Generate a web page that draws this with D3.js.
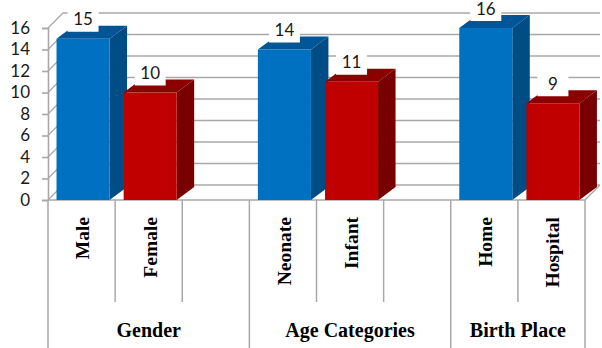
<!DOCTYPE html>
<html>
<head>
<meta charset="utf-8">
<script src="https://cdn.jsdelivr.net/npm/d3@7"></script>
<style>
  body { margin: 0; background: #fff; }
  svg { display: block; }
</style>
</head>
<body>
<svg id="chart" width="602" height="348"></svg>
<script>
// slots along the x axis (blank slots separate the groups)
var slots = ['Male', 'Female', 'gap1', 'Neonate', 'Infant', 'gap2', 'Home', 'Hospital'];
var barNames = ['Male', 'Female', 'Neonate', 'Infant', 'Home', 'Hospital'];
var barValues = [15, 10, 14, 11, 16, 9];
var barSeries = ['blue', 'red', 'blue', 'red', 'blue', 'red'];
var groupNames = ['Gender', 'Age Categories', 'Birth Place'];
var groupStart = ['Male', 'Neonate', 'Home'];
var groupEnd = ['gap1', 'gap2', 'Hospital'];
var yTicks = [0, 2, 4, 6, 8, 10, 12, 14, 16];

var faces = {
    blue: { front: '#0070c0', side: '#004d85', top: '#005596' },
    red:  { front: '#c00000', side: '#780000', top: '#8c0000' }
};

document.addEventListener('DOMContentLoaded', function () {
    drawChart();
});

function drawChart() {
    const svg = d3.select('#chart');
    const left = 48, right = 585, base = 200, topY = 28;
    const wallDx = 15, wallDy = -15;    // depth of the walls
    const barDx = 17.5, barDy = -13;    // depth of each bar
    const grid = '#a8a8a8';

    var x = d3.scaleBand().domain(slots).range([left, right]).padding(0);
    var y = d3.scaleLinear().domain([0, 16]).range([base, topY]);
    var bw = x.bandwidth();
    var barW = bw * 0.79;
    var barOff = bw * 0.127;

    // back wall gridlines
    svg.append('g').selectAll('line')
        .data(yTicks)
        .enter()
        .append('line')
        .attr('x1', left + wallDx).attr('x2', right + wallDx)
        .attr('y1', d => y(d) + wallDy).attr('y2', d => y(d) + wallDy)
        .attr('stroke', grid).attr('stroke-width', 1.6);

    // side wall diagonals
    svg.append('g').selectAll('line')
        .data(yTicks)
        .enter()
        .append('line')
        .attr('x1', left).attr('x2', left + wallDx)
        .attr('y1', d => y(d)).attr('y2', d => y(d) + wallDy)
        .attr('stroke', grid).attr('stroke-width', 1.3);

    // floor right edge
    svg.append('line')
        .attr('x1', right).attr('y1', base)
        .attr('x2', right + wallDx).attr('y2', base + wallDy)
        .attr('stroke', grid).attr('stroke-width', 1.5);

    // y axis
    const yAxis = svg.append('g')
        .attr('transform', `translate(${left},0)`)
        .call(d3.axisLeft(y).tickValues(yTicks).tickSize(6).tickPadding(12));
    yAxis.select('.domain').attr('stroke', grid).attr('stroke-width', 1.6);
    yAxis.selectAll('.tick line').attr('stroke', grid).attr('stroke-width', 1.6);
    yAxis.selectAll('.tick text')
        .attr('font-family', 'Lato, "Open Sans", sans-serif')
        .attr('font-size', 17)
        .attr('fill', '#1a1a1a');

    // x axis line
    svg.append('line')
        .attr('x1', left).attr('x2', right)
        .attr('y1', base).attr('y2', base)
        .attr('stroke', grid).attr('stroke-width', 1.6);

    // category separators
    var bounds = slots.map(s => x(s)).concat([right]);
    var longBounds = [left, right].concat(groupStart.map(s => x(s)));
    svg.append('g').selectAll('line')
        .data(bounds)
        .enter()
        .append('line')
        .attr('x1', d => d).attr('x2', d => d)
        .attr('y1', base)
        .attr('y2', d => longBounds.some(b => Math.abs(b - d) < 0.5) ? 348 : 302)
        .attr('stroke', grid).attr('stroke-width', 1.5);

    // bars
    var bars = barNames.map((n, i) => ({ name: n, value: barValues[i], series: barSeries[i] }));
    const bg = svg.append('g');
    bars.forEach(d => {
        var x0 = x(d.name) + barOff, x1 = x0 + barW;
        var yt = y(d.value), yb = y(0);
        var c = faces[d.series];
        bg.append('path')
            .attr('d', `M${x1},${yb}L${x1 + barDx},${yb + barDy}L${x1 + barDx},${yt + barDy}L${x1},${yt}Z`)
            .attr('fill', c.side);
        bg.append('path')
            .attr('d', `M${x0},${yt}L${x0 + barDx},${yt + barDy}L${x1 + barDx},${yt + barDy}L${x1},${yt}Z`)
            .attr('fill', c.top);
        bg.append('rect')
            .attr('x', x0).attr('y', yt)
            .attr('width', barW).attr('height', yb - yt)
            .attr('fill', c.front);
    });

    // value labels with white boxes
    const lg = svg.append('g');
    bars.forEach(d => {
        var cx = x(d.name) + barOff + barW / 2;
        var yt = y(d.value);
        lg.append('rect')
            .attr('x', cx - 15.5).attr('y', yt - 30)
            .attr('width', 31).attr('height', 23)
            .attr('fill', '#fff');
        lg.append('text')
            .attr('x', cx).attr('y', yt - 13.5)
            .attr('text-anchor', 'middle')
            .attr('font-family', 'Lato, "Open Sans", sans-serif')
            .attr('font-size', 17)
            .attr('fill', '#1a1a1a')
            .text(d.value);
    });

    // category labels (rotated)
    svg.append('g').selectAll('text')
        .data(barNames)
        .enter()
        .append('text')
        .attr('transform', d => `translate(${x(d) + bw / 2 + 1},217) rotate(-90)`)
        .attr('dy', '0.35em')
        .attr('text-anchor', 'end')
        .attr('font-family', '"Liberation Serif", "Times New Roman", serif')
        .attr('font-weight', 'bold')
        .attr('font-size', 19.5)
        .attr('fill', '#000')
        .text(d => d);

    // group labels
    svg.append('g').selectAll('text')
        .data(groupNames)
        .enter()
        .append('text')
        .attr('x', (d, i) => (x(groupStart[i]) + x(groupEnd[i]) + bw) / 2)
        .attr('y', 337)
        .attr('text-anchor', 'middle')
        .attr('font-family', '"Liberation Serif", "Times New Roman", serif')
        .attr('font-weight', 'bold')
        .attr('font-size', 20)
        .attr('fill', '#000')
        .text(d => d);
}
</script>
</body>
</html>
